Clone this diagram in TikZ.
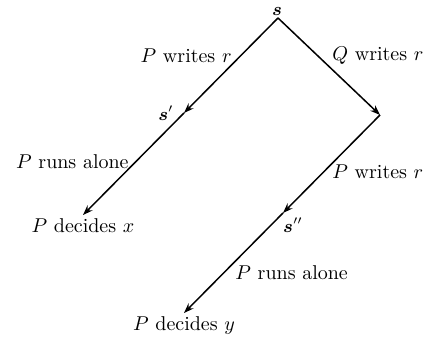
\documentclass[tikz,border=0pt]{standalone}
\usepackage{bm}
\usetikzlibrary{arrows.meta}
\begin{document}
\begin{tikzpicture}[x=1pt,y=1pt,
  conn/.style={line width=0.75pt,-{Stealth[length=5pt,width=3.6pt]}},
  lbl/.style={inner sep=0pt,font=\normalsize},
  st/.style={inner sep=0pt,font=\small},
  endlbl/.style={inner sep=1.5pt,anchor=north}]
\useasboundingbox (0,0) rectangle (214,169);
% points
\coordinate (A) at (139,160);
\coordinate (C) at (190,111.5);
\coordinate (S1) at (92,112.5);
\coordinate (S2) at (141.5,62.5);
\node[endlbl] (dx) at (41.5,61.5) {$P$ decides $x$};
\node[endlbl] (dy) at (92,12.5) {$P$ decides $y$};
% labels
\node[st,anchor=south] (sl) at (138.5,161) {$\bm{s}$};
\node[st,anchor=east] (s1l) at (87,112.5) {$\bm{s}'$};
\node[st] (s2l) at (146.5,56.5) {$\bm{s}''$};
\node[lbl,anchor=east] (pw1) at (116,141) {$P$ writes $r$};
\node[lbl,anchor=west] (qw) at (166,141) {$Q$ writes $r$};
\node[lbl,anchor=east] (pr1) at (64.5,88) {$P$ runs alone};
\node[lbl,anchor=west] (pw2) at (166,83) {$P$ writes $r$};
\node[lbl,anchor=west] (pr2) at (117.5,32.5) {$P$ runs alone};
% connectors
\draw[conn] (A) -- (S1);
\draw[conn] (S1) -- (dx.north);
\draw[conn] (A) -- (C);
\draw[conn] (C) -- (S2);
\draw[conn] (S2) -- (dy.north);
\end{tikzpicture}
\end{document}
